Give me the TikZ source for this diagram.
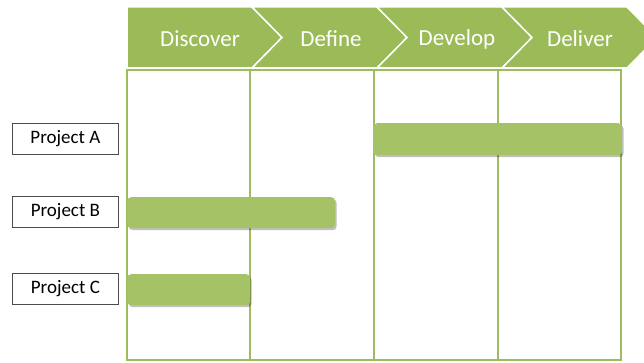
\documentclass[tikz,border=0pt]{standalone}
\usepackage{fontspec}
\setmainfont{Carlito}
\usetikzlibrary{shadows}
\definecolor{hdrgreen}{HTML}{9BBB59}
\definecolor{bargreen}{HTML}{A5C266}
\definecolor{gridgreen}{HTML}{9DBC5E}
\begin{document}
\begin{tikzpicture}[x=1pt,y=-1pt,
  phase/.style={fill=hdrgreen,draw=white,line width=1.5pt,line join=miter},
  phasetext/.style={text=white,font=\fontsize{23}{26}\selectfont,inner sep=0pt,anchor=center},
  gridline/.style={draw=gridgreen,line width=1.8pt},
  bar/.style={fill=bargreen,draw=none,rounded corners=4pt,
    drop shadow={shadow xshift=1.5pt,shadow yshift=-2pt,fill=black,opacity=0.25}},
  projlabel/.style={draw=black!70,fill=white,line width=0.8pt,minimum width=106pt,minimum height=31pt,
    inner sep=0pt,font=\fontsize{19}{22}\selectfont,anchor=north west}]
\useasboundingbox (0,0) rectangle (644,363);
\begin{scope}
\clip (0,0) rectangle (644,363);
\path[phase] (127,7) -- (252,7) -- (282,37.5) -- (252,68) -- (127,68) -- cycle;
\path[phase] (252,7) -- (377,7) -- (407,37.5) -- (377,68) -- (252,68) -- (282,37.5) -- cycle;
\path[phase] (377,7) -- (502,7) -- (532,37.5) -- (502,68) -- (377,68) -- (407,37.5) -- cycle;
\path[phase] (502,7) -- (627,7) -- (657,37.5) -- (627,68) -- (502,68) -- (532,37.5) -- cycle;
\end{scope}
\node[phasetext] (discover) at (200,39) {Discover};
\node[phasetext] (define) at (331,39) {Define};
\node[phasetext] (develop) at (457,39) {Develop};
\node[phasetext] (deliver) at (580,39) {Deliver};
% grid
\draw[gridline] (127,70) rectangle (621,360);
\foreach \x in {250,374,498} \draw[gridline] (\x,70) -- (\x,360);
% bars
\node[bar,minimum width=249pt,minimum height=32pt,anchor=north west,inner sep=0pt] (barA) at (373,123) {};
\node[bar,minimum width=208pt,minimum height=31pt,anchor=north west,inner sep=0pt] (barB) at (127,197) {};
\node[bar,minimum width=123pt,minimum height=31pt,anchor=north west,inner sep=0pt] (barC) at (127,274) {};
% labels
\node[projlabel] (labA) at (12,123) {Project A};
\node[projlabel] (labB) at (12,196) {Project B};
\node[projlabel] (labC) at (12,273) {Project C};
\end{tikzpicture}
\end{document}
